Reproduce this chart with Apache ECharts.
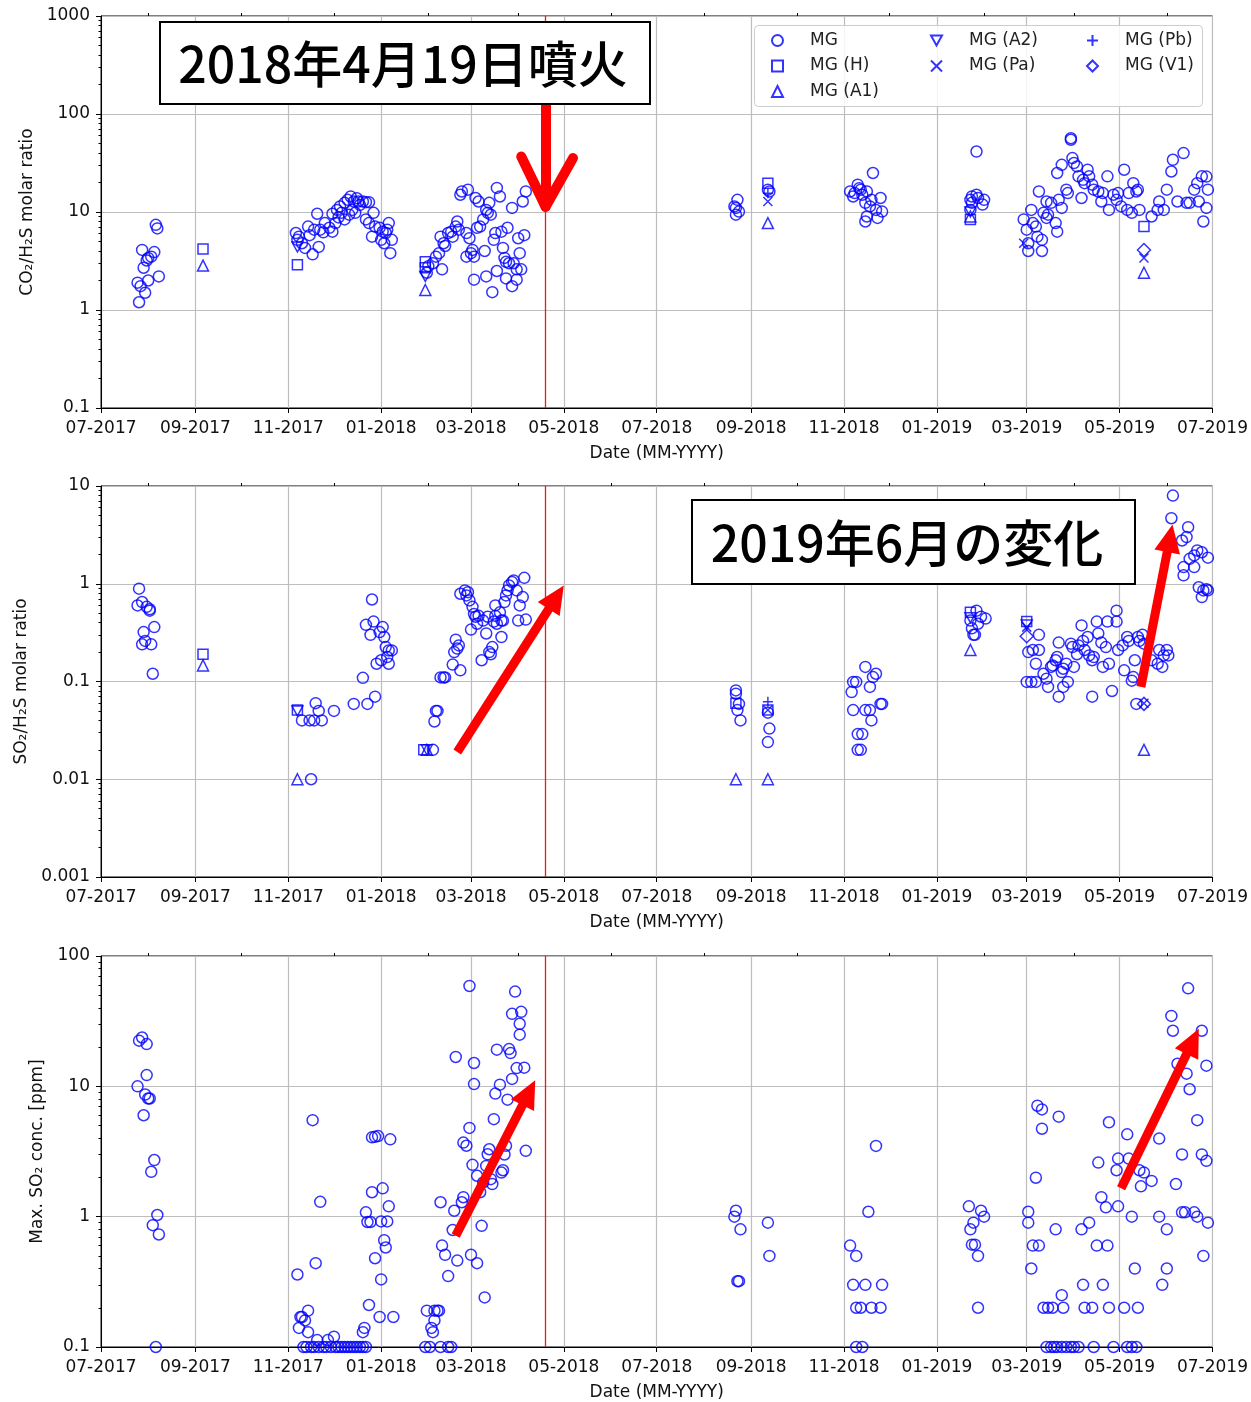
<!DOCTYPE html>
<html><head><meta charset="utf-8">
<script src="https://cdn.jsdelivr.net/npm/echarts@6/dist/echarts.min.js"></script>
<style>html,body{margin:0;padding:0;background:#fff}#c{width:1251px;height:1402px}</style>
</head><body><div id="c"></div>
<script>
// ---------- tick labels ----------
const majorTickDates = ['2017-07-01','2017-09-01','2017-11-01','2018-01-01','2018-03-01','2018-05-01','2018-07-01','2018-09-01','2018-11-01','2019-01-01','2019-03-01','2019-05-01','2019-07-01'];
const minorTickDates = ['2017-08-01','2017-10-01','2017-12-01','2018-02-01','2018-04-01','2018-06-01','2018-08-01','2018-10-01','2018-12-01','2019-02-01','2019-04-01','2019-06-01'];
const eruptionDate = '2018-04-19';

// ---------- panel 1: CO2/H2S ----------
const co2_MG = [
['2017-07-25',1.9],['2017-07-26',1.2],['2017-07-27',1.75],['2017-07-28',4.1],['2017-07-29',2.7],['2017-07-30',1.5],['2017-08-01',2.0],['2017-08-01',3.4],['2017-08-03',3.5],['2017-08-05',3.9],['2017-08-06',7.4],['2017-08-07',6.8],['2017-08-08',2.2],['2017-07-31',3.2],
['2017-11-06',6.1],['2017-11-08',5.6],['2017-11-07',5.2],['2017-11-10',4.8],['2017-11-12',4.3],['2017-11-17',3.7],['2017-11-21',4.4],['2017-11-14',7.1],['2017-11-20',9.6],['2017-11-18',6.6],['2017-11-22',6.6],['2017-11-25',7.7],['2017-11-28',6.9],['2017-11-30',6.3],['2017-12-02',7.7],['2017-11-30',9.6],['2017-12-03',10.5],['2017-12-05',11.4],['2017-12-08',12.4],['2017-12-10',13.3],['2017-12-12',14.4],['2017-12-14',12.8],['2017-12-13',10.5],['2017-12-08',8.4],['2017-12-11',9.4],['2017-12-15',9.8],['2017-12-17',12.8],['2017-12-20',12.8],['2017-12-22',12.6],['2017-12-24',12.6],['2017-12-22',8.4],['2017-12-24',7.7],['2017-12-27',9.8],['2017-12-28',7.1],['2017-12-26',5.6],['2017-12-31',6.9],['2018-01-02',6.3],['2018-01-04',6.1],['2018-01-01',5.2],['2018-01-03',4.8],['2018-01-06',7.7],['2018-01-08',5.2],['2018-01-07',3.8],['2018-01-05',6.6],['2017-12-06',9.8],['2017-12-04',8.8],['2017-11-15',5.8],['2017-11-24',6.2],['2017-12-18',11.8],['2017-12-16',13.8],
['2018-01-31',2.4],['2018-02-01',2.8],['2018-02-04',3.0],['2018-02-06',3.5],['2018-02-08',3.8],['2018-02-09',5.6],['2018-02-11',4.8],['2018-02-12',4.5],['2018-02-10',2.6],['2018-02-14',6.1],['2018-02-16',6.3],['2018-02-17',5.6],['2018-02-19',7.1],['2018-02-20',8.0],['2018-02-21',6.6],['2018-02-22',15.0],['2018-02-23',16.2],['2018-02-26',6.1],['2018-02-27',16.9],['2018-02-28',5.4],['2018-02-26',3.5],['2018-03-01',3.8],['2018-03-02',4.1],['2018-03-03',3.5],['2018-03-04',13.9],['2018-03-06',12.8],['2018-03-05',6.9],['2018-03-07',7.1],['2018-03-09',8.4],['2018-03-10',4.0],['2018-03-11',10.5],['2018-03-12',9.8],['2018-03-13',12.4],['2018-03-14',9.4],['2018-03-16',5.2],['2018-03-17',6.1],['2018-03-18',17.6],['2018-03-20',14.4],['2018-03-21',6.3],['2018-03-22',4.3],['2018-03-23',3.4],['2018-03-24',3.1],['2018-03-25',6.9],['2018-03-26',3.0],['2018-03-28',11.0],['2018-03-29',3.0],['2018-03-31',2.6],['2018-04-01',5.4],['2018-04-02',3.8],['2018-04-03',2.6],['2018-04-04',12.8],['2018-04-05',5.8],['2018-04-06',16.2],['2018-03-03',2.04],['2018-03-11',2.2],['2018-03-15',1.52],['2018-03-18',2.5],['2018-03-24',2.1],['2018-03-28',1.75],['2018-03-31',2.04],
['2018-08-22',11.0],['2018-08-23',13.3],['2018-08-24',10.1],['2018-08-22',9.4],['2018-08-21',11.4],
['2018-09-12',16.9],['2018-09-13',16.2],
['2018-11-05',16.2],['2018-11-07',14.4],['2018-11-10',19.0],['2018-11-12',16.9],['2018-11-13',15.0],['2018-11-15',12.4],['2018-11-16',16.2],['2018-11-18',11.4],['2018-11-19',13.3],['2018-11-20',25],['2018-11-22',10.5],['2018-11-23',8.7],['2018-11-25',13.9],['2018-11-26',10.1],['2018-11-15',8.0],['2018-11-16',9.0],['2018-11-08',15.6],['2018-11-11',17.5],
['2019-01-23',13.3],['2019-01-24',14.4],['2019-01-27',15.0],['2019-01-28',13.9],['2019-01-31',11.9],['2019-02-01',13.3],['2019-01-27',41.4],['2019-01-24',12.4],['2019-01-23',10.5],
['2019-02-27',8.4],['2019-03-01',6.6],['2019-03-02',4.8],['2019-03-02',4.0],['2019-03-04',10.5],['2019-03-05',7.7],['2019-03-07',7.1],['2019-03-08',5.6],['2019-03-09',16.2],['2019-03-11',4.0],['2019-03-11',5.2],['2019-03-12',9.8],['2019-03-14',12.8],['2019-03-14',8.7],['2019-03-15',9.4],['2019-03-17',12.4],['2019-03-20',7.7],['2019-03-21',6.3],['2019-03-22',13.3],['2019-03-24',11.0],['2019-03-21',25],['2019-03-24',30.3],['2019-03-27',16.9],['2019-03-28',15.6],['2019-03-30',56.7],['2019-03-30',54.6],['2019-03-31',35.5],['2019-04-01',31.6],['2019-04-03',29.2],['2019-04-04',23.1],['2019-04-06',13.9],['2019-04-07',21.3],['2019-04-08',19.7],['2019-04-10',27],['2019-04-11',23.1],['2019-04-13',19.0],['2019-04-14',16.9],['2019-04-17',16.2],['2019-04-19',12.8],['2019-04-20',15.6],['2019-04-23',23.1],['2019-04-24',10.5],['2019-04-27',15.0],['2019-04-29',13.3],['2019-04-30',15.6],['2019-05-02',11.4],['2019-05-04',27],['2019-05-06',10.5],['2019-05-07',15.6],['2019-05-09',9.8],['2019-05-10',19.7],['2019-05-12',16.2],['2019-05-13',16.9],['2019-05-14',10.5],['2019-05-22',9.0],['2019-05-26',10.5],['2019-05-27',12.8],['2019-05-30',10.5],['2019-06-01',16.9],['2019-06-04',25.9],['2019-06-05',34.1],['2019-06-08',12.8],['2019-06-12',39.9],['2019-06-14',12.4],['2019-06-16',12.4],['2019-06-19',16.9],['2019-06-21',19.7],['2019-06-22',12.8],['2019-06-24',23.1],['2019-06-25',8.0],['2019-06-27',11.0],['2019-06-27',23],['2019-06-28',16.9]
];
const co2_H  = [['2017-09-06',4.2],['2017-11-07',2.9],['2018-01-30',3.1],['2018-01-30',2.7],['2018-09-12',19.7],['2019-01-23',8.4],['2019-05-17',7.1]];
const co2_A1 = [['2017-09-06',2.84],['2018-01-30',1.6],['2018-09-12',7.7],['2019-01-23',9.0],['2019-05-17',2.4]];
const co2_A2 = [['2017-11-07',4.4],['2018-01-30',2.2],['2019-01-23',10.0]];
const co2_Pa = [['2018-09-12',12.8],['2019-02-27',4.8],['2019-05-17',3.4]];
const co2_Pb = [['2018-09-12',15.5]];
const co2_V1 = [['2019-05-17',4.1]];

// ---------- panel 2: SO2/H2S ----------
const so2_MG = [
['2017-07-26',0.89],['2017-07-25',0.60],['2017-07-28',0.65],['2017-07-31',0.58],['2017-08-02',0.53],['2017-08-02',0.55],['2017-07-29',0.32],['2017-08-05',0.36],['2017-07-28',0.24],['2017-07-30',0.26],['2017-08-03',0.24],['2017-08-04',0.12],
['2017-11-10',0.040],['2017-11-15',0.040],['2017-11-18',0.040],['2017-11-23',0.040],['2017-11-19',0.060],['2017-11-21',0.050],['2017-12-01',0.050],['2017-11-16',0.010],
['2017-12-14',0.059],['2017-12-23',0.059],['2017-12-28',0.070],['2017-12-20',0.109],['2017-12-26',0.69],['2017-12-22',0.38],['2017-12-25',0.30],['2017-12-27',0.41],['2018-01-02',0.36],['2017-12-31',0.32],['2018-01-03',0.285],['2018-01-04',0.225],['2018-01-06',0.208],['2018-01-08',0.208],['2018-01-05',0.178],['2018-01-01',0.165],['2017-12-29',0.152],['2018-01-06',0.152],
['2018-02-04',0.02],['2018-02-05',0.039],['2018-02-06',0.050],['2018-02-07',0.050],['2018-02-09',0.11],['2018-02-11',0.11],['2018-02-12',0.11],['2018-02-17',0.149],['2018-02-22',0.13],['2018-02-18',0.2],['2018-02-20',0.217],['2018-02-19',0.268],['2018-02-21',0.234],['2018-02-22',0.79],['2018-02-25',0.855],['2018-02-26',0.76],['2018-02-27',0.82],['2018-02-28',0.675],['2018-03-01',0.34],['2018-03-02',0.58],['2018-03-03',0.49],['2018-03-04',0.46],['2018-03-05',0.39],['2018-03-06',0.47],['2018-03-08',0.165],['2018-03-09',0.42],['2018-03-11',0.31],['2018-03-12',0.46],['2018-03-13',0.2],['2018-03-14',0.19],['2018-03-15',0.225],['2018-03-16',0.41],['2018-03-17',0.60],['2018-03-18',0.39],['2018-03-20',0.51],['2018-03-21',0.285],['2018-03-22',0.42],['2018-03-23',0.65],['2018-03-24',0.76],['2018-03-25',0.855],['2018-03-26',0.96],['2018-03-28',1.04],['2018-03-29',1.08],['2018-03-31',0.855],['2018-04-01',0.42],['2018-04-02',0.60],['2018-04-04',0.73],['2018-04-05',1.15],['2018-04-06',0.43],['2018-03-21',0.42],['2018-03-17',0.47],
['2018-08-22',0.081],['2018-08-22',0.075],['2018-08-23',0.051],['2018-08-25',0.040],['2018-08-24',0.059],
['2018-09-12',0.048],['2018-09-13',0.033],['2018-09-12',0.024],
['2018-11-06',0.078],['2018-11-07',0.099],['2018-11-09',0.099],['2018-11-15',0.141],['2018-11-18',0.088],['2018-11-20',0.111],['2018-11-22',0.12],['2018-11-07',0.051],['2018-11-15',0.051],['2018-11-18',0.051],['2018-11-19',0.040],['2018-11-26',0.059],['2018-11-25',0.059],['2018-11-10',0.029],['2018-11-13',0.029],['2018-11-10',0.02],['2018-11-12',0.02],
['2019-01-27',0.53],['2019-01-30',0.46],['2019-02-02',0.44],['2019-01-24',0.35],['2019-01-25',0.30],['2019-01-23',0.42],['2019-01-28',0.39],['2019-01-26',0.30],
['2019-03-02',0.20],['2019-03-05',0.21],['2019-03-09',0.21],['2019-03-09',0.30],['2019-03-07',0.152],['2019-03-01',0.099],['2019-03-04',0.099],['2019-03-07',0.099],['2019-03-12',0.12],['2019-03-14',0.107],['2019-03-15',0.088],['2019-03-17',0.141],['2019-03-18',0.146],['2019-03-20',0.165],['2019-03-21',0.178],['2019-03-22',0.25],['2019-03-22',0.07],['2019-03-24',0.125],['2019-03-25',0.135],['2019-03-27',0.152],['2019-03-28',0.099],['2019-03-25',0.088],['2019-03-30',0.244],['2019-03-31',0.225],['2019-04-01',0.141],['2019-04-03',0.19],['2019-04-04',0.234],['2019-04-06',0.375],['2019-04-07',0.26],['2019-04-08',0.21],['2019-04-10',0.285],['2019-04-11',0.185],['2019-04-13',0.165],['2019-04-14',0.178],['2019-04-16',0.41],['2019-04-17',0.31],['2019-04-19',0.25],['2019-04-20',0.141],['2019-04-22',0.225],['2019-04-23',0.41],['2019-04-24',0.152],['2019-04-26',0.08],['2019-04-29',0.41],['2019-04-29',0.53],['2019-04-30',0.21],['2019-04-13',0.07],['2019-05-03',0.234],['2019-05-04',0.13],['2019-05-06',0.285],['2019-05-07',0.26],['2019-05-09',0.102],['2019-05-10',0.111],['2019-05-11',0.165],['2019-05-12',0.059],['2019-05-13',0.285],['2019-05-14',0.26],['2019-05-16',0.30],['2019-05-17',0.244],['2019-05-22',0.165],['2019-05-26',0.152],['2019-05-27',0.21],['2019-05-29',0.141],['2019-05-30',0.185],['2019-06-01',0.21],['2019-06-02',0.185],
['2019-06-05',7.98],['2019-06-04',4.68],['2019-06-15',3.79],['2019-06-14',3.0],['2019-06-11',2.77],['2019-06-21',2.19],['2019-06-24',2.1],['2019-06-19',1.95],['2019-06-16',1.8],['2019-06-28',1.85],['2019-06-12',1.48],['2019-06-19',1.48],['2019-06-12',1.22],['2019-06-22',0.92],['2019-06-25',0.855],['2019-06-27',0.88],['2019-06-24',0.73],['2019-06-28',0.855]
];
const so2_H  = [['2017-09-06',0.19],['2017-11-07',0.051],['2018-01-29',0.02],['2018-08-22',0.06],['2018-09-12',0.051],['2019-01-23',0.51],['2019-03-01',0.41]];
const so2_A1 = [['2017-09-06',0.146],['2017-11-07',0.010],['2018-01-31',0.02],['2018-08-22',0.010],['2018-09-12',0.010],['2019-01-23',0.21],['2019-05-17',0.02]];
const so2_A2 = [['2017-11-07',0.05],['2018-01-31',0.02],['2019-01-23',0.45],['2019-03-01',0.38]];
const so2_Pa = [['2018-09-12',0.051],['2019-03-01',0.36],['2019-05-17',0.06]];
const so2_Pb = [['2018-09-12',0.062]];
const so2_V1 = [['2019-03-01',0.29],['2019-05-17',0.059]];

// ---------- panel 3: max SO2 conc. ----------
const maxso2_MG = [
['2017-07-28',23.7],['2017-07-26',22.4],['2017-07-31',21.1],['2017-07-31',12.2],['2017-07-25',10.0],['2017-07-30',8.65],['2017-08-01',8.07],['2017-08-02',8.07],['2017-07-29',6.0],['2017-08-05',2.72],['2017-08-03',2.21],['2017-08-07',1.03],['2017-08-04',0.86],['2017-08-08',0.73],['2017-08-06',0.10],
['2017-11-07',0.36],['2017-11-17',5.5],['2017-11-22',1.30],['2017-11-19',0.44],['2017-11-09',0.17],['2017-11-12',0.16],['2017-11-14',0.19],['2017-11-08',0.14],['2017-11-14',0.13],['2017-11-10',0.17],['2017-11-20',0.113],['2017-11-27',0.113],['2017-12-01',0.12],
['2017-11-11',0.1],['2017-11-13',0.1],['2017-11-16',0.1],['2017-11-18',0.1],['2017-11-21',0.1],['2017-11-24',0.1],['2017-11-26',0.1],['2017-11-29',0.1],['2017-12-02',0.1],['2017-12-04',0.1],['2017-12-06',0.1],['2017-12-08',0.1],['2017-12-10',0.1],['2017-12-12',0.1],['2017-12-14',0.1],['2017-12-16',0.1],['2017-12-18',0.1],['2017-12-20',0.1],['2017-12-22',0.1],
['2017-12-21',0.14],['2017-12-20',0.13],['2017-12-24',0.21],['2017-12-28',0.48],['2018-01-01',0.33],['2017-12-31',0.17],['2018-01-09',0.17],['2017-12-22',1.08],['2017-12-23',0.91],['2017-12-25',0.91],['2017-12-26',1.54],['2018-01-02',1.65],['2018-01-01',0.92],['2018-01-05',0.92],['2018-01-06',1.2],['2018-01-03',0.66],['2018-01-04',0.58],['2017-12-26',4.06],['2017-12-28',4.1],['2017-12-30',4.15],['2018-01-07',3.92],
['2018-01-31',0.19],['2018-02-05',0.19],['2018-02-07',0.19],['2018-02-08',0.19],['2018-02-05',0.16],['2018-02-03',0.14],['2018-02-04',0.13],['2018-01-30',0.1],['2018-02-02',0.1],['2018-02-09',0.1],['2018-02-14',0.1],['2018-02-16',0.1],['2018-02-14',0.35],['2018-02-10',0.6],['2018-02-12',0.51],['2018-02-20',0.46],['2018-02-17',0.79],['2018-02-18',1.11],['2018-02-23',1.29],['2018-02-24',1.41],['2018-02-09',1.29],['2018-02-19',16.8],['2018-02-28',58.9],['2018-03-03',15.1],['2018-03-03',10.4],['2018-02-28',4.8],['2018-02-24',3.7],['2018-02-26',3.5],['2018-03-02',2.5],['2018-03-05',2.06],['2018-03-01',0.51],['2018-03-05',0.44],['2018-03-08',0.85],['2018-03-10',0.24],['2018-03-07',1.54],['2018-03-09',1.83],['2018-03-11',2.45],['2018-03-12',3.01],['2018-03-13',3.29],['2018-03-14',1.94],['2018-03-15',1.78],['2018-03-16',5.6],['2018-03-17',8.8],['2018-03-20',10.3],['2018-03-18',19.1],['2018-03-26',19.3],['2018-03-27',18.0],['2018-03-28',11.4],['2018-03-31',13.8],['2018-04-05',13.9],['2018-04-02',30.2],['2018-04-02',24.9],['2018-03-28',36.0],['2018-04-03',37.3],['2018-03-30',53.3],['2018-03-25',7.9],['2018-03-21',2.18],['2018-03-22',2.27],['2018-03-24',3.5],['2018-03-23',3.0],['2018-04-06',3.2],
['2018-08-22',1.11],['2018-08-21',1.0],['2018-08-25',0.8],['2018-08-23',0.32],['2018-08-24',0.32],['2018-09-12',0.9],['2018-09-13',0.50],
['2018-11-05',0.6],['2018-11-09',0.5],['2018-11-07',0.30],['2018-11-15',0.30],['2018-11-26',0.30],['2018-11-09',0.2],['2018-11-12',0.2],['2018-11-19',0.2],['2018-11-25',0.2],['2018-11-09',0.1],['2018-11-13',0.1],['2018-11-22',3.49],['2018-11-17',1.09],
['2019-01-22',1.2],['2019-01-30',1.11],['2019-02-01',1.0],['2019-01-25',0.9],['2019-01-23',0.8],['2019-01-24',0.61],['2019-01-26',0.61],['2019-01-28',0.5],['2019-01-28',0.2],
['2019-03-08',7.1],['2019-03-11',6.65],['2019-03-11',4.73],['2019-03-22',5.85],['2019-03-07',1.99],['2019-03-02',1.09],['2019-03-02',0.9],['2019-03-05',0.6],['2019-03-09',0.6],['2019-03-04',0.4],['2019-03-20',0.8],['2019-03-24',0.25],['2019-03-12',0.2],['2019-03-15',0.2],['2019-03-18',0.2],['2019-03-25',0.2],['2019-04-06',0.8],['2019-04-11',0.9],['2019-04-07',0.3],['2019-04-20',0.3],['2019-04-08',0.2],['2019-04-13',0.2],['2019-04-17',2.6],['2019-04-19',1.41],['2019-04-22',1.18],['2019-04-16',0.6],['2019-04-23',0.6],['2019-04-24',5.3],['2019-04-29',2.27],['2019-04-30',2.79],['2019-05-06',4.28],['2019-05-07',2.79],['2019-04-30',1.2],['2019-05-04',0.2],['2019-05-13',0.2],['2019-05-09',1.0],['2019-05-11',0.4],['2019-04-24',0.2],['2019-05-14',2.27],['2019-05-17',2.18],['2019-05-15',1.71],['2019-05-22',1.88],['2019-05-27',3.97],['2019-05-27',1.0],['2019-06-01',0.8],['2019-06-01',0.4],['2019-05-29',0.3],['2019-06-04',34.7],['2019-06-05',26.7],['2019-06-15',56.5],['2019-06-24',26.7],['2019-06-08',14.9],['2019-06-14',12.5],['2019-06-16',9.5],['2019-06-27',14.4],['2019-06-21',5.5],['2019-06-11',3.0],['2019-06-24',3.0],['2019-06-27',2.68],['2019-06-07',1.78],['2019-06-11',1.08],['2019-06-13',1.08],['2019-06-19',1.08],['2019-06-21',1.0],['2019-06-28',0.9],['2019-06-25',0.5],
['2019-03-14',0.1],['2019-03-17',0.1],['2019-03-19',0.1],['2019-03-21',0.1],['2019-03-24',0.1],['2019-03-27',0.1],['2019-03-30',0.1],['2019-04-01',0.1],['2019-04-04',0.1],['2019-04-14',0.1],['2019-04-27',0.1],['2019-05-06',0.1],['2019-05-09',0.1],['2019-05-12',0.1]
];

// ---------- annotations (data space) ----------
const arrowsP1 = [
  [['2018-04-19',130],['2018-04-19',12.5],'butt'],
  [['2018-04-03',36.8],['2018-04-19',11.3],'round'],
  [['2018-05-07',35.5],['2018-04-19',11.3],'round']
];
const arrowsP2 = [[['2018-02-20',0.019],['2018-04-26',0.728]],[['2019-05-15',0.088],['2019-06-03',2.92]]];
const arrowsP3 = [[['2018-02-19',0.716],['2018-04-08',8.93]],[['2019-05-02',1.65],['2019-06-18',22.1]]];
const noteEruption = '2018年4月19日噴火';
const noteChange = '2019年6月の変化';

// ---------- build ----------
const BLUE = '#0000ff';
const FONT = '"DejaVu Sans", sans-serif';
const SYM = {
  'MG': ['circle', 11],
  'MG (H)': ['rect', 10],
  'MG (A1)': ['triangle', 11],
  'MG (A2)': ['path://M0,0L10,0L5,9Z', 11],
  'MG (Pa)': ['path://M0,0L10,10M10,0L0,10', 9],
  'MG (Pb)': ['path://M5,0L5,10M0,5L10,5', 10],
  'MG (V1)': ['diamond', 13]
};
function ts(s){const p=s.split('-').map(Number);return new Date(p[0],p[1]-1,p[2]).getTime();}
function pt(a){return [ts(a[0]), a[1]];}
function fmtMonth(v){const d=new Date(v);return String(d.getMonth()+1).padStart(2,'0')+'-'+d.getFullYear();}
function fmtLog(v){return String(+Number(v).toPrecision(4));}
const X_MIN = ts(majorTickDates[0]), X_MAX = ts(majorTickDates[majorTickDates.length-1]);
const majorTs = majorTickDates.map(ts), minorTs = minorTickDates.map(ts);
const ERUPT = ts(eruptionDate);

const panels = [
  {top:16, height:392, ymin:0.1, ymax:1000, name:'CO₂/H₂S molar ratio', nameGap:64},
  {top:486, height:391, ymin:0.001, ymax:10, name:'SO₂/H₂S molar ratio', nameGap:70},
  {top:956, height:392, ymin:0.1, ymax:100, name:'Max. SO₂ conc. [ppm]', nameGap:55}
];

const grid=[], xAxis=[], yAxis=[], series=[];
panels.forEach((p,gi)=>{
  grid.push({left:101, right:38, top:p.top, height:p.height, show:true, borderColor:'#000', borderWidth:1, backgroundColor:'#fff', containLabel:false});
  xAxis.push({type:'value', gridIndex:gi, min:X_MIN, max:X_MAX, scale:true,
    axisLine:{show:true, onZero:false, lineStyle:{color:'#000', width:1}},
    axisTick:{show:true, customValues:majorTs, length:5, lineStyle:{color:'#000'}},
    axisLabel:{customValues:majorTs, formatter:fmtMonth, fontSize:17, fontFamily:FONT, color:'#111', margin:12, hideOverlap:false},
    splitLine:{show:true, lineStyle:{color:'#bdbdbd', width:1.2}},
    name:'Date (MM-YYYY)', nameLocation:'middle', nameGap:37,
    nameTextStyle:{fontSize:17, fontFamily:FONT, color:'#111'}});
  xAxis.push({type:'value', gridIndex:gi, min:X_MIN, max:X_MAX, scale:true, axisLine:{show:false, onZero:false},
    axisTick:{show:true, customValues:minorTs, length:3, lineStyle:{color:'#000'}},
    axisLabel:{show:false}, splitLine:{show:false}});
  yAxis.push({type:'log', logBase:10, gridIndex:gi, min:p.ymin, max:p.ymax,
    axisLine:{show:true, onZero:false, lineStyle:{color:'#000', width:1}},
    axisTick:{show:true, length:5, lineStyle:{color:'#000'}},
    axisLabel:{formatter:fmtLog, fontSize:17, fontFamily:FONT, color:'#111', margin:11},
    splitLine:{show:true, lineStyle:{color:'#bdbdbd', width:1.2}},
    name:p.name, nameLocation:'middle', nameGap:p.nameGap,
    nameTextStyle:{fontSize:17, fontFamily:FONT, color:'#111'}});
  const lo=Math.round(Math.log10(p.ymin)), hi=Math.round(Math.log10(p.ymax));
  const minorLog=[];
  for(let e=lo;e<hi;e++){for(let m=2;m<=9;m++){minorLog.push(e+Math.log10(m));}}
  yAxis.push({type:'value', gridIndex:gi, min:lo, max:hi, position:'left',
    axisLine:{show:false, onZero:false}, axisLabel:{show:false}, splitLine:{show:false},
    axisTick:{show:true, customValues:minorLog, length:2.5, lineStyle:{color:'#000'}}});
});

function mk(name, data, gi){
  const s=SYM[name];
  return {type:'scatter', name, xAxisIndex:gi*2, yAxisIndex:gi*2, data:data.map(pt),
    symbol:s[0], symbolSize:s[1], symbolKeepAspect:true,
    itemStyle:{color:'rgba(0,0,0,0)', borderColor:BLUE, borderWidth:1.5},
    emphasis:{disabled:true}, z:3};
}
[['MG',co2_MG],['MG (H)',co2_H],['MG (A1)',co2_A1],['MG (A2)',co2_A2],['MG (Pa)',co2_Pa],['MG (Pb)',co2_Pb],['MG (V1)',co2_V1]].forEach(a=>series.push(mk(a[0],a[1],0)));
[['MG',so2_MG],['MG (H)',so2_H],['MG (A1)',so2_A1],['MG (A2)',so2_A2],['MG (Pa)',so2_Pa],['MG (Pb)',so2_Pb],['MG (V1)',so2_V1]].forEach(a=>series.push(mk(a[0],a[1],1)));
series.push(mk('MG',maxso2_MG,2));

// red eruption line + arrows
[0,1,2].forEach(gi=>{
  series.push({type:'scatter', xAxisIndex:gi*2, yAxisIndex:gi*2, data:[[ERUPT,1]], symbolSize:0, silent:true, z:2,
    itemStyle:{opacity:0},
    markLine:{silent:true, animation:false, symbol:['none','none'], label:{show:false},
      lineStyle:{color:'#f01818', width:1.3, type:'solid'}, emphasis:{disabled:true},
      data:[{xAxis:ERUPT}]}});
});
series.push({type:'scatter', xAxisIndex:0, yAxisIndex:0, data:[[ERUPT,1]], symbolSize:0, silent:true, z:8, itemStyle:{opacity:0},
  markLine:{silent:true, animation:false, symbol:['none','none'], label:{show:false}, emphasis:{disabled:true},
    data:arrowsP1.map(a=>[{coord:pt(a[0]), lineStyle:{color:'#ff0000', width:10, type:'solid', cap:a[2]}},{coord:pt(a[1])}])}});
[[arrowsP2,1],[arrowsP3,2]].forEach(([arr,gi])=>{
  series.push({type:'scatter', xAxisIndex:gi*2, yAxisIndex:gi*2, data:[[ERUPT,1]], symbolSize:0, silent:true, z:8, itemStyle:{opacity:0},
    markLine:{silent:true, animation:false, symbol:['none','triangle'], symbolSize:[26,28], label:{show:false}, emphasis:{disabled:true},
      lineStyle:{color:'#ff0000', width:9, type:'solid'},
      data:arr.map(a=>[{coord:pt(a[0])},{coord:pt(a[1])}])}});
});

const legendBase = {orient:'vertical', itemWidth:11, itemHeight:11, itemGap:8.5, padding:0, top:32, selectedMode:false, z:6,
  textStyle:{fontSize:17, fontFamily:FONT, color:'#222', padding:[0,0,0,22]}};
const legend = [
  Object.assign({}, legendBase, {left:771, data:['MG','MG (H)','MG (A1)']}),
  Object.assign({}, legendBase, {left:930, data:['MG (A2)','MG (Pa)']}),
  Object.assign({}, legendBase, {left:1086, data:['MG (Pb)','MG (V1)']})
];

const noteFont = '500 50px "Noto Sans CJK JP", sans-serif';
const graphic = [
  {type:'rect', z:5, shape:{x:754.5, y:25.5, width:448, height:81, r:4}, style:{fill:'rgba(255,255,255,0.85)', stroke:'#cccccc', lineWidth:1}},
  {type:'rect', z:20, shape:{x:160, y:22, width:490, height:82}, style:{fill:'#fff', stroke:'#000', lineWidth:2}},
  {type:'text', z:21, x:403, y:64, style:{text:noteEruption, font:noteFont, fill:'#000', align:'center', verticalAlign:'middle'}},
  {type:'rect', z:20, shape:{x:692, y:500, width:443, height:84}, style:{fill:'#fff', stroke:'#000', lineWidth:2}},
  {type:'text', z:21, x:907, y:543, style:{text:noteChange, font:noteFont, fill:'#000', align:'center', verticalAlign:'middle'}}
];

const chart = echarts.init(document.getElementById('c'), null, {renderer:'canvas'});
chart.setOption({backgroundColor:'#fff', animation:false, grid, xAxis, yAxis, series, legend, graphic});
</script>
</body></html>
